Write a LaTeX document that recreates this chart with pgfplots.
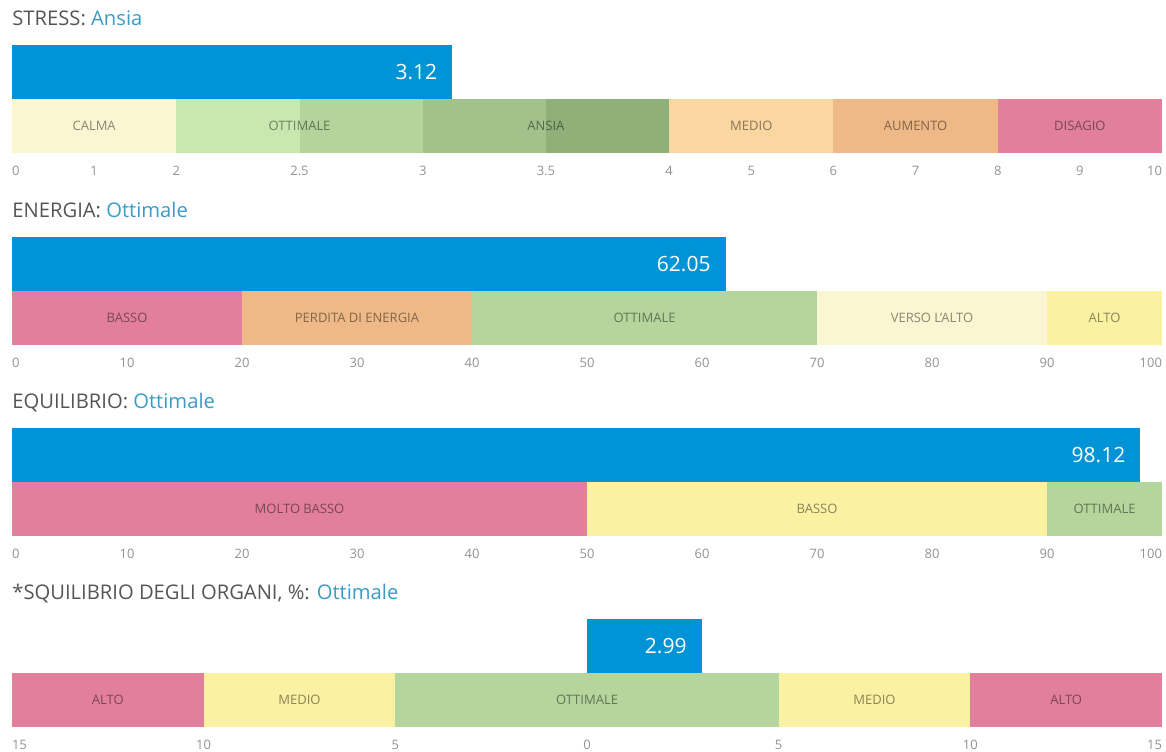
\documentclass[border=0pt]{standalone}
\usepackage{fontspec}
\setmainfont{Open Sans}
\usepackage{pgfplots}
\pgfplotsset{compat=1.18}

\definecolor{barblue}{HTML}{0094D6}
\definecolor{titlegray}{HTML}{555555}
\definecolor{status}{HTML}{3A9CC6}
\definecolor{ticgray}{HTML}{929292}
\definecolor{cpink}{HTML}{E27F9D}
\definecolor{corange}{HTML}{EFB987}
\definecolor{cpeach}{HTML}{FAD6A0}
\definecolor{cgreen}{HTML}{B4D69C}
\definecolor{ccream}{HTML}{FAF6D2}
\definecolor{cyellow}{HTML}{FAF1A3}
\definecolor{sgreenA}{HTML}{C8E8B0}
\definecolor{sgreenB}{HTML}{B3D49B}
\definecolor{sgreenC}{HTML}{A1C38B}
\definecolor{sgreenD}{HTML}{8FB079}

\pgfplotsset{
  gauge/.style={
    scale only axis, width=575pt, height=54pt,
    anchor=south west,
    ymin=0, ymax=2, ytick=\empty,
    axis line style={draw=none}, tick style={draw=none},
    clip=false,
    xticklabel style={font=\fontsize{6.5}{8}\selectfont, text=ticgray, yshift=-3pt},
    every axis title/.style={at={(0,1)}, anchor=base west, yshift=9.7pt,
      inner sep=0pt, font=\fontsize{10.1}{12}\selectfont, text=titlegray},
  },
}
\tikzset{
  lab/.style={font=\fontsize{6.5}{8}\selectfont, text=black, text opacity=0.45},
  val/.style={font=\fontsize{10.5}{12}\selectfont, text=white, anchor=east, xshift=-4pt},
}
% one coloured range of a scale: lo, hi, colour
\newcommand{\band}[3]{\addplot[fill=#3, draw=none] coordinates {(#1,0) (#2,0) (#2,1) (#1,1)} -- cycle;}
% the measured value: from, to
\newcommand{\meas}[2]{\addplot[fill=barblue, draw=none] coordinates {(#1,1) (#2,1) (#2,2) (#1,2)} -- cycle;}

\begin{document}
\begin{tikzpicture}
\path[use as bounding box] (0,0) rectangle (583pt,-375.5pt);

% STRESS: the scale is stretched threefold between 2 and 4
\begin{axis}[gauge, at={(6pt,-76.5pt)},
  x coord trafo/.code={\pgfmathparse{(#1<2)*(#1)+and(#1>=2,#1<4)*(3*(#1)-4)+(#1>=4)*((#1)+4)}},
  xmin=0, xmax=10,
  xtick={0,1,2,2.5,3,3.5,4,5,6,7,8,9,10},
  xticklabels={\rlap{0},1,2,2.5,3,3.5,4,5,6,7,8,9,\llap{10}},
  title={STRESS: \textcolor{status}{Ansia}}]
  \band{0}{2}{ccream}
  \band{2}{2.5}{sgreenA}
  \band{2.5}{3}{sgreenB}
  \band{3}{3.5}{sgreenC}
  \band{3.5}{4}{sgreenD}
  \band{4}{6}{cpeach}
  \band{6}{8}{corange}
  \band{8}{10}{cpink}
  \meas{0}{3.12}
  \node[lab] at (axis cs:1,0.5) {CALMA};
  \node[lab] at (axis cs:2.5,0.5) {OTTIMALE};
  \node[lab] at (axis cs:3.5,0.5) {ANSIA};
  \node[lab] at (axis cs:5,0.5) {MEDIO};
  \node[lab] at (axis cs:7,0.5) {AUMENTO};
  \node[lab] at (axis cs:9,0.5) {DISAGIO};
  \node[val] at (axis cs:3.12,1.5) {3.12};
\end{axis}

% ENERGIA
\begin{axis}[gauge, at={(6pt,-172.5pt)},
  xmin=0, xmax=100,
  xtick={0,10,...,100},
  xticklabels={\rlap{0},10,20,30,40,50,60,70,80,90,\llap{100}},
  title={ENERGIA: \textcolor{status}{Ottimale}}]
  \band{0}{20}{cpink}
  \band{20}{40}{corange}
  \band{40}{70}{cgreen}
  \band{70}{90}{ccream}
  \band{90}{100}{cyellow}
  \meas{0}{62.05}
  \node[lab] at (axis cs:10,0.5) {BASSO};
  \node[lab] at (axis cs:30,0.5) {PERDITA DI ENERGIA};
  \node[lab] at (axis cs:55,0.5) {OTTIMALE};
  \node[lab] at (axis cs:80,0.5) {VERSO L'ALTO};
  \node[lab] at (axis cs:95,0.5) {ALTO};
  \node[val] at (axis cs:62.05,1.5) {62.05};
\end{axis}

% EQUILIBRIO
\begin{axis}[gauge, at={(6pt,-268pt)},
  xmin=0, xmax=100,
  xtick={0,10,...,100},
  xticklabels={\rlap{0},10,20,30,40,50,60,70,80,90,\llap{100}},
  title={EQUILIBRIO: \textcolor{status}{Ottimale}}]
  \band{0}{50}{cpink}
  \band{50}{90}{cyellow}
  \band{90}{100}{cgreen}
  \meas{0}{98.12}
  \node[lab] at (axis cs:25,0.5) {MOLTO BASSO};
  \node[lab] at (axis cs:70,0.5) {BASSO};
  \node[lab] at (axis cs:95,0.5) {OTTIMALE};
  \node[val] at (axis cs:98.12,1.5) {98.12};
\end{axis}

% SQUILIBRIO DEGLI ORGANI
\begin{axis}[gauge, at={(6pt,-363.5pt)},
  xmin=-15, xmax=15,
  xtick={-15,-10,...,15},
  xticklabels={\rlap{15},10,5,0,5,10,\llap{15}},
  title={*SQUILIBRIO DEGLI ORGANI, \%: \textcolor{status}{Ottimale}}]
  \band{-15}{-10}{cpink}
  \band{-10}{-5}{cyellow}
  \band{-5}{5}{cgreen}
  \band{5}{10}{cyellow}
  \band{10}{15}{cpink}
  \meas{0}{2.99}
  \node[lab] at (axis cs:-12.5,0.5) {ALTO};
  \node[lab] at (axis cs:-7.5,0.5) {MEDIO};
  \node[lab] at (axis cs:0,0.5) {OTTIMALE};
  \node[lab] at (axis cs:7.5,0.5) {MEDIO};
  \node[lab] at (axis cs:12.5,0.5) {ALTO};
  \node[val] at (axis cs:2.99,1.5) {2.99};
\end{axis}
\end{tikzpicture}
\end{document}
